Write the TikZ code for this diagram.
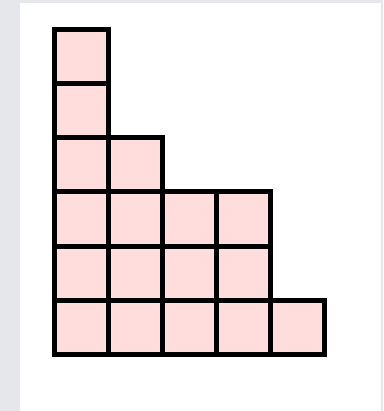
\documentclass[tikz,border=0pt]{standalone}
\definecolor{bggrey}{RGB}{229,231,235}
\definecolor{cellpink}{RGB}{255,221,221}
\tikzset{cellbox/.style={draw=black,fill=cellpink,line width=5pt,line join=miter}}
\begin{document}
\begin{tikzpicture}[x=1pt,y=-1pt]
\useasboundingbox (0,0) rectangle (383,411);
\fill[bggrey] (0,0) rectangle (383,411);
\fill[white] (20,3) rectangle (381,411);
% rows from top: lengths 1,1,2,4,4,5
\foreach \r/\len in {0/1,1/1,2/2,3/4,4/4,5/5}{
  \foreach \c in {1,...,\len}{
    \pgfmathsetmacro{\xa}{54+(\c-1)*54}
    \pgfmathsetmacro{\ya}{30+\r*54}
    \draw[cellbox] (\xa,\ya) rectangle ++(54,54);
  }
}
\end{tikzpicture}
\end{document}
